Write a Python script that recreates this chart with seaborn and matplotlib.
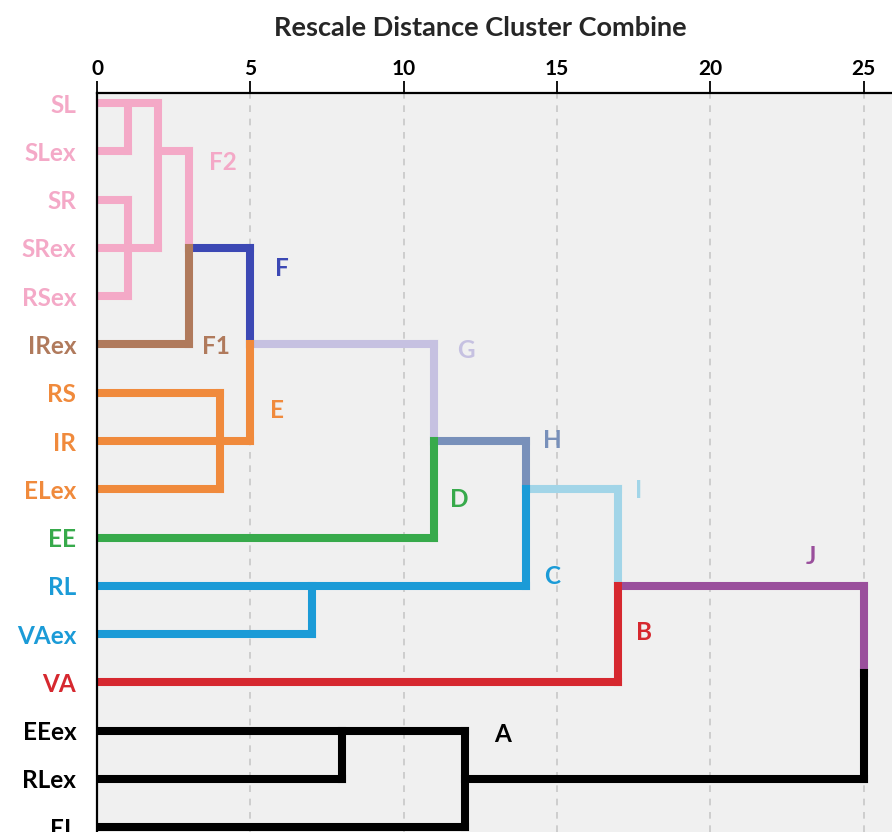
import matplotlib
matplotlib.use("Agg")
import matplotlib.pyplot as plt
import seaborn as sns
import pandas as pd

# ---------------- data ----------------
leaves = ["SL", "SLex", "SR", "SRex", "RSex", "IRex", "RS", "IR", "ELex",
          "EE", "RL", "VAex", "VA", "EEex", "RLex", "EL"]
leaf_colors = ["pink", "pink", "pink", "pink", "pink", "brown", "orange",
               "orange", "orange", "green", "blue", "blue", "red",
               "black", "black", "black"]

# horizontal segments: row (leaf index), start distance, end distance, colour
h_row = [0, 1, 1, 2, 3, 3, 4, 5, 5, 6, 7, 7, 8, 8, 9, 10, 10, 11, 12, 13, 14, 14, 15]
h_start = [0, 0, 2, 0, 0, 3, 0, 0, 5, 0, 0, 11, 0, 14, 0, 0, 17, 0, 0, 0, 0, 12, 0]
h_end = [2, 1, 3, 1, 2, 5, 1, 3, 11, 4, 5, 14, 4, 17, 11, 14, 25, 7, 17, 12, 8, 25, 12]
h_color = ["pink", "pink", "pink", "pink", "pink", "indigo", "pink", "brown",
           "lavender", "orange", "orange", "slate", "orange", "lightblue",
           "green", "blue", "purple", "blue", "red", "black", "black", "black",
           "black"]

# vertical segments: distance, from row, to row, colour
v_dist = [1, 1, 2, 3, 3, 5, 4, 5, 11, 11, 14, 14, 17, 7, 17, 25, 25, 8, 12]
v_from = [0, 2, 0, 1, 3, 3, 6, 5, 5, 7, 7, 8, 8, 10, 10, 10, 11.8, 13, 13]
v_to = [1, 4, 3, 3, 5, 5, 8, 7, 7, 9, 8, 10, 10, 11, 12, 11.8, 14, 14, 15]
v_color = ["pink", "pink", "pink", "pink", "brown", "indigo", "orange",
           "orange", "lavender", "green", "slate", "blue", "lightblue",
           "blue", "red", "purple", "black", "black", "black"]

# cluster labels
lab_text = ["F2", "F", "F1", "G", "E", "H", "D", "I", "C", "J", "B", "A"]
lab_x = [4.1, 6.03, 3.88, 12.02, 5.86, 14.85, 11.82, 17.65, 14.85, 23.29, 17.85, 13.22]
lab_y = [1.24, 3.42, 5.05, 5.12, 6.36, 6.98, 8.22, 8.02, 9.8, 9.4, 10.96, 13.09]
lab_color = ["pink", "indigo", "brown", "lavender", "orange", "slate", "green",
             "lightblue", "blue", "purple", "red", "black"]

xticks = [0, 5, 10, 15, 20, 25]
title = "Rescale Distance Cluster Combine"

palette = {
    "pink": "#f4a9c7",
    "brown": "#b07a5c",
    "indigo": "#3c48b4",
    "lavender": "#c6c1e1",
    "orange": "#f08a3c",
    "green": "#37aa4b",
    "slate": "#7890ba",
    "lightblue": "#a2d5e8",
    "blue": "#1b9bd7",
    "red": "#d6282f",
    "purple": "#9a4f9c",
    "black": "#000000",
}

# ---------------- build long table ----------------
rows = []
sid = 0
for r, a, b, c in zip(h_row, h_start, h_end, h_color):
    rows.append(dict(seg=sid, x=a, y=r, col=c, o=0))
    rows.append(dict(seg=sid, x=b, y=r, col=c, o=1))
    sid += 1
for d, a, b, c in zip(v_dist, v_from, v_to, v_color):
    rows.append(dict(seg=sid, x=d, y=a, col=c, o=0))
    rows.append(dict(seg=sid, x=d, y=b, col=c, o=1))
    sid += 1
df = pd.DataFrame(rows)
seg_pal = {s: palette[c] for s, c in df.groupby("seg")["col"].first().items()}

# ---------------- plot ----------------
sns.set_style("white", {"axes.facecolor": "#f0f0f0"})
plt.rcParams["font.family"] = ["Lato", "DejaVu Sans"]

fig = plt.figure(figsize=(8.92, 8.32), dpi=100)
ax = fig.add_axes([97 / 892, 0.0, 1 - 97 / 892, 1 - 93 / 832])

for xv in xticks[1:]:
    ax.axvline(xv, color="#c8c8c8", lw=1.2, ls=(0, (4, 4)), zorder=0)

sns.lineplot(data=df, x="x", y="y", units="seg", hue="seg", palette=seg_pal,
             estimator=None, sort=False, legend=False, lw=5.8, ax=ax,
             solid_capstyle="projecting", zorder=2)

ax.set_xlim(0, 25.92)
ax.set_ylim(15.1, -0.21)

ax.xaxis.tick_top()
ax.set_xticks(xticks)
ax.set_xticklabels([str(t) for t in xticks], fontsize=15, fontweight="bold")
ax.tick_params(axis="x", direction="out", length=9, width=1.3, pad=1, colors="black")
ax.set_yticks(range(len(leaves)))
ax.set_yticklabels(leaves, fontsize=17.5, fontweight="bold")
for t, c in zip(ax.get_yticklabels(), leaf_colors):
    t.set_color(palette[c])
ax.tick_params(axis="y", direction="in", length=3, width=1.2, pad=15)
ax.set_xlabel("")
ax.set_ylabel("")

for s in ["right", "bottom"]:
    ax.spines[s].set_visible(False)
for s in ["top", "left"]:
    ax.spines[s].set_color("black")
    ax.spines[s].set_linewidth(1.6)

for t, x, y, c in zip(lab_text, lab_x, lab_y, lab_color):
    ax.text(x, y, t, color=palette[c], fontsize=17.5, fontweight="bold",
            ha="center", va="center", zorder=3)

fig.text(480 / 892, 1 - 28 / 832, title, fontsize=19.5, fontweight="bold",
         ha="center", va="center")

fig.savefig("out.png", dpi=100)
